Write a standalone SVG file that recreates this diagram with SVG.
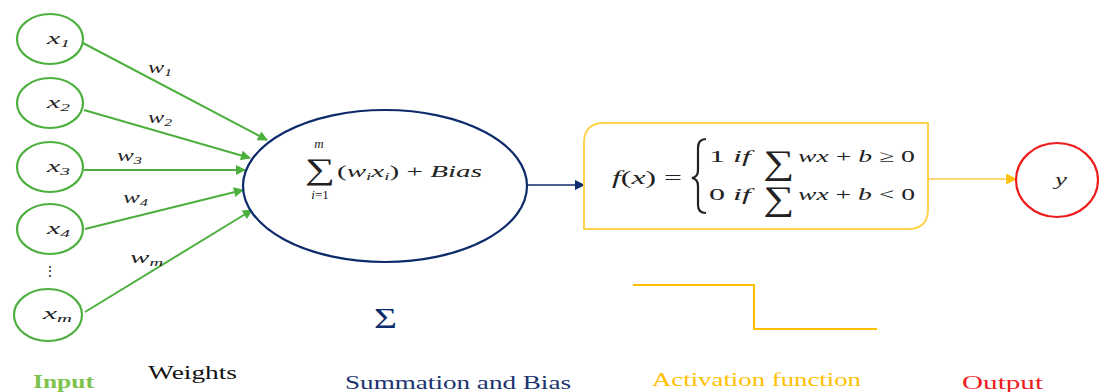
<svg xmlns="http://www.w3.org/2000/svg" width="1099" height="392" viewBox="0 0 1099 392">
  <style>
    .in { fill: #fff; stroke: #4caf3e; stroke-width: 2.2; }
    .math { font-family: "Liberation Serif", "DejaVu Serif", serif; font-style: italic; fill: #222; }
    .up { font-family: "Liberation Serif", "DejaVu Serif", serif; fill: #222; }
    .sub { font-size: 11px; }
    .green { stroke: #4caf3e; stroke-width: 2; fill: none; }
    .cap { font-family: "Liberation Serif", "DejaVu Serif", serif; font-size: 18px; }
  </style>
  <defs>
    <marker id="ag" viewBox="0 0 10 10" refX="9" refY="5" markerWidth="12" markerHeight="10" orient="auto" markerUnits="userSpaceOnUse">
      <path d="M0,0 L10,5 L0,10 Z" fill="#4caf3e"/>
    </marker>
    <marker id="an" viewBox="0 0 10 10" refX="9" refY="5" markerWidth="11" markerHeight="10" orient="auto" markerUnits="userSpaceOnUse">
      <path d="M0,0 L10,5 L0,10 Z" fill="#0d2b6b"/>
    </marker>
    <marker id="ay" viewBox="0 0 10 10" refX="9" refY="5" markerWidth="13" markerHeight="11" orient="auto" markerUnits="userSpaceOnUse">
      <path d="M0,0 L10,5 L0,10 Z" fill="#ffc30f"/>
    </marker>
  </defs>

  <!-- connectors -->
  <g id="connectors">
    <line class="green" x1="83" y1="43" x2="267" y2="140" marker-end="url(#ag)"/>
    <line class="green" x1="84" y1="110" x2="250" y2="158" marker-end="url(#ag)"/>
    <line class="green" x1="84" y1="170" x2="245" y2="170" marker-end="url(#ag)"/>
    <line class="green" x1="85" y1="229" x2="243" y2="190" marker-end="url(#ag)"/>
    <line class="green" x1="85" y1="312" x2="252" y2="210" marker-end="url(#ag)"/>
    <line x1="527" y1="185" x2="584" y2="185" stroke="#0d2b6b" stroke-width="1.4" marker-end="url(#an)"/>
    <line x1="929" y1="179" x2="1016" y2="179" stroke="#ffc844" stroke-width="1.6" marker-end="url(#ay)"/>
  </g>

  <!-- weight labels -->
  <g id="weights" class="math" font-size="17">
    <text x="148" y="73" textLength="24" lengthAdjust="spacingAndGlyphs">w<tspan class="sub" dy="3">1</tspan></text>
    <text x="148" y="123" textLength="24" lengthAdjust="spacingAndGlyphs">w<tspan class="sub" dy="3">2</tspan></text>
    <text x="117" y="161" textLength="25" lengthAdjust="spacingAndGlyphs">w<tspan class="sub" dy="3">3</tspan></text>
    <text x="123" y="203" textLength="25" lengthAdjust="spacingAndGlyphs">w<tspan class="sub" dy="3">4</tspan></text>
    <text x="130" y="263" textLength="33" lengthAdjust="spacingAndGlyphs">w<tspan class="sub" dy="3">m</tspan></text>
  </g>

  <!-- input nodes -->
  <g id="x1">
    <ellipse class="in" cx="50" cy="39" rx="33" ry="25"/>
    <text class="math" x="47" y="44" font-size="17" textLength="23" lengthAdjust="spacingAndGlyphs">x<tspan class="sub" dy="3">1</tspan></text>
  </g>
  <g id="x2">
    <ellipse class="in" cx="50" cy="103" rx="33" ry="25"/>
    <text class="math" x="47" y="108" font-size="17" textLength="23" lengthAdjust="spacingAndGlyphs">x<tspan class="sub" dy="3">2</tspan></text>
  </g>
  <g id="x3">
    <ellipse class="in" cx="50" cy="167" rx="33" ry="25"/>
    <text class="math" x="47" y="172" font-size="17" textLength="23" lengthAdjust="spacingAndGlyphs">x<tspan class="sub" dy="3">3</tspan></text>
  </g>
  <g id="x4">
    <ellipse class="in" cx="50" cy="229" rx="33" ry="25"/>
    <text class="math" x="47" y="234" font-size="17" textLength="23" lengthAdjust="spacingAndGlyphs">x<tspan class="sub" dy="3">4</tspan></text>
  </g>
  <text class="up" x="50" y="276" font-size="14" text-anchor="middle">⋮</text>
  <g id="xm">
    <ellipse class="in" cx="48" cy="315" rx="34" ry="26"/>
    <text class="math" x="43" y="319" font-size="17" textLength="29" lengthAdjust="spacingAndGlyphs">x<tspan class="sub" dy="3">m</tspan></text>
  </g>

  <!-- summation node -->
  <g id="sum">
    <ellipse cx="385" cy="186" rx="142" ry="76" fill="#fff" stroke="#0d2b6b" stroke-width="2.2"/>
    <text class="up" x="305" y="179" font-size="30" textLength="30" lengthAdjust="spacingAndGlyphs">∑</text>
    <text class="math" x="319" y="148" font-size="13" text-anchor="middle">m</text>
    <text class="math" x="320" y="199" font-size="13" text-anchor="middle">i<tspan font-style="normal">=1</tspan></text>
    <text class="math" x="337" y="177" font-size="17" textLength="145" lengthAdjust="spacingAndGlyphs"><tspan font-style="normal">(</tspan>w<tspan class="sub" dy="3">i</tspan><tspan dy="-3">x</tspan><tspan class="sub" dy="3">i</tspan><tspan dy="-3" font-style="normal">) + </tspan>Bias</text>
  </g>

  <!-- activation node -->
  <g id="activation">
    <path d="M604,123 H928 V209 Q928,229 908,229 H584 V143 Q584,123 604,123 Z" fill="#fff" stroke="#ffd34f" stroke-width="2"/>
    <text class="math" x="612" y="184" font-size="18" textLength="70" lengthAdjust="spacingAndGlyphs">f<tspan font-style="normal">(</tspan>x<tspan font-style="normal">) =</tspan></text>
    <path d="M706,139 Q698,139 698,148 V170 Q698,177 692,178 Q698,179 698,186 V205 Q698,213 706,213" fill="none" stroke="#222" stroke-width="2.2"/>
    <text class="up" x="709" y="162" font-size="17" textLength="42" lengthAdjust="spacingAndGlyphs">1 <tspan font-style="italic">if</tspan></text>
    <text class="up" x="763" y="174" font-size="34" textLength="31" lengthAdjust="spacingAndGlyphs">∑</text>
    <text class="math" x="798" y="162" font-size="17" textLength="117" lengthAdjust="spacingAndGlyphs">wx <tspan font-style="normal">+ </tspan>b <tspan font-style="normal">≥ 0</tspan></text>
    <text class="up" x="709" y="200" font-size="17" textLength="42" lengthAdjust="spacingAndGlyphs">0 <tspan font-style="italic">if</tspan></text>
    <text class="up" x="763" y="210" font-size="34" textLength="31" lengthAdjust="spacingAndGlyphs">∑</text>
    <text class="math" x="798" y="200" font-size="17" textLength="117" lengthAdjust="spacingAndGlyphs">wx <tspan font-style="normal">+ </tspan>b <tspan font-style="normal">&lt; 0</tspan></text>
  </g>

  <!-- output node -->
  <g id="output">
    <ellipse cx="1057" cy="180" rx="41" ry="37" fill="#fff" stroke="#ee1c1c" stroke-width="2.2"/>
    <text class="math" x="1061" y="185" font-size="16" textLength="12" lengthAdjust="spacingAndGlyphs" text-anchor="middle">y</text>
  </g>

  <!-- legend symbols -->
  <text x="374" y="328" font-family="Liberation Serif, DejaVu Serif, serif" font-size="30" fill="#0d2b6b" textLength="23" lengthAdjust="spacingAndGlyphs">Σ</text>
  <polyline points="633,285 754,285 754,329 877,329" fill="none" stroke="#ffc000" stroke-width="2"/>

  <!-- captions -->
  <text class="cap" x="33" y="388" fill="#7cc24e" font-weight="bold" textLength="61" lengthAdjust="spacingAndGlyphs">Input</text>
  <text class="cap" x="148" y="379" fill="#111" textLength="89" lengthAdjust="spacingAndGlyphs">Weights</text>
  <text class="cap" x="345" y="389" fill="#1b3470" textLength="226" lengthAdjust="spacingAndGlyphs">Summation and Bias</text>
  <text class="cap" x="652" y="386" fill="#ffc000" textLength="209" lengthAdjust="spacingAndGlyphs">Activation function</text>
  <text class="cap" x="962" y="389" fill="#ee1c1c" textLength="81" lengthAdjust="spacingAndGlyphs">Output</text>
</svg>
